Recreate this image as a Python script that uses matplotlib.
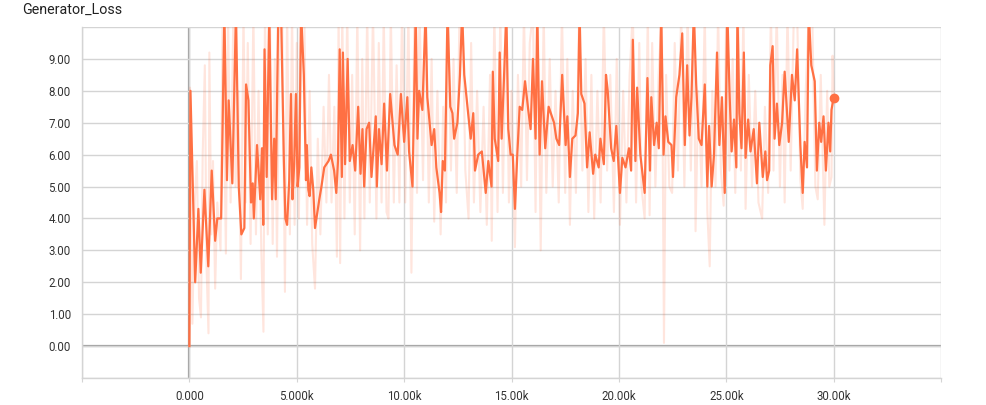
import numpy as np
import matplotlib
matplotlib.use('Agg')
import matplotlib.pyplot as plt
from matplotlib.ticker import FuncFormatter

# smoothed curve (step in thousands, loss)
smooth_steps = [
    0.0, 0.05, 0.27, 0.42, 0.53, 0.70, 0.88, 1.04, 1.20, 1.30, 1.48, 1.63, 1.75, 1.83, 2.00,
    2.17, 2.30, 2.42, 2.56, 2.64, 2.75, 2.87, 2.95, 3.00, 3.15, 3.30, 3.38, 3.44, 3.50, 3.60,
    3.72, 3.85, 3.95, 4.02, 4.14, 4.27, 4.40, 4.47, 4.55, 4.65, 4.73, 4.80, 4.88, 4.96, 5.04,
    5.12, 5.20, 5.33, 5.43, 5.47, 5.54, 5.60, 5.68, 5.77, 5.85, 6.05, 6.15, 6.28, 6.48, 6.59,
    6.74, 6.84, 6.92, 7.00, 7.10, 7.15, 7.25, 7.37, 7.47, 7.60, 7.72, 7.86, 7.97, 8.06, 8.14,
    8.25, 8.37, 8.48, 8.68, 8.73, 8.83, 8.95, 9.07, 9.20, 9.35, 9.55, 9.70, 9.85, 10.00, 10.15,
    10.23, 10.39, 10.54, 10.62, 10.70, 10.85, 11.00, 11.08, 11.28, 11.40, 11.50, 11.65, 11.72, 11.80, 11.90,
    12.02, 12.15, 12.25, 12.33, 12.48, 12.60, 12.70, 12.80, 12.95, 13.10, 13.22, 13.30, 13.45, 13.62, 13.80,
    13.92, 14.07, 14.13, 14.22, 14.38, 14.45, 14.54, 14.65, 14.76, 14.85, 14.96, 15.06, 15.16, 15.27, 15.38,
    15.50, 15.63, 15.78, 15.89, 16.00, 16.12, 16.20, 16.31, 16.42, 16.57, 16.73, 16.98, 17.09, 17.22, 17.36,
    17.52, 17.60, 17.72, 17.83, 17.98, 18.09, 18.17, 18.25, 18.40, 18.52, 18.64, 18.80, 18.90, 19.06, 19.14,
    19.30, 19.40, 19.48, 19.64, 19.76, 19.88, 20.05, 20.16, 20.31, 20.47, 20.57, 20.65, 20.77, 20.85, 21.00,
    21.20, 21.33, 21.45, 21.51, 21.64, 21.76, 21.86, 21.97, 22.08, 22.17, 22.30, 22.45, 22.52, 22.67, 22.82,
    22.95, 23.07, 23.18, 23.29, 23.38, 23.49, 23.60, 23.72, 23.85, 24.00, 24.12, 24.20, 24.32, 24.43, 24.57,
    24.68, 24.80, 24.93, 25.05, 25.16, 25.25, 25.36, 25.47, 25.52, 25.61, 25.71, 25.82, 25.90, 26.02, 26.13,
    26.28, 26.43, 26.54, 26.70, 26.82, 26.90, 27.00, 27.05, 27.16, 27.25, 27.36, 27.47, 27.60, 27.72, 27.83,
    27.91, 28.06, 28.19, 28.30, 28.45, 28.56, 28.65, 28.76, 28.84, 28.96, 29.12, 29.22, 29.33, 29.42, 29.53,
    29.64, 29.76, 29.84, 29.90, 30.00,
]
smooth_loss = [
    0.0, 8.0, 2.0, 4.3, 2.3, 4.9, 2.5, 5.5, 3.3, 4.0, 4.0, 10.5, 5.2, 7.7, 5.1,
    10.5, 5.0, 3.5, 3.7, 8.2, 7.7, 4.5, 5.1, 4.0, 6.3, 4.6, 6.2, 3.8, 9.3, 5.3,
    10.5, 4.6, 6.5, 4.6, 10.5, 10.5, 5.8, 4.0, 3.8, 5.2, 7.9, 4.6, 5.7, 7.9, 5.0,
    5.6, 10.5, 8.5, 5.2, 6.3, 4.9, 4.7, 5.6, 4.9, 3.7, 4.6, 5.0, 5.6, 5.8, 6.0,
    5.5, 4.8, 5.8, 9.3, 5.3, 9.2, 5.7, 9.0, 5.8, 6.3, 5.5, 7.5, 5.4, 6.8, 5.0,
    6.8, 7.0, 5.3, 7.2, 5.0, 6.8, 5.7, 7.6, 5.5, 7.9, 6.3, 6.0, 7.9, 6.4, 7.8,
    6.1, 5.0, 10.5, 6.5, 8.0, 7.4, 10.5, 7.8, 6.3, 6.8, 5.6, 4.8, 4.2, 5.8, 5.5,
    10.5, 7.5, 7.3, 6.5, 7.0, 8.5, 10.5, 8.5, 7.5, 6.5, 7.3, 5.5, 6.0, 6.1, 4.8,
    5.8, 5.0, 8.6, 6.5, 5.8, 9.2, 6.5, 8.4, 10.5, 6.8, 6.0, 6.0, 4.3, 6.0, 7.5,
    7.4, 8.3, 7.4, 6.8, 9.0, 6.5, 10.5, 6.0, 8.3, 6.2, 7.5, 7.0, 6.5, 6.3, 8.5,
    6.3, 7.2, 5.3, 6.5, 6.6, 7.3, 10.5, 7.9, 7.6, 5.6, 6.7, 5.4, 6.0, 5.6, 6.5,
    5.7, 8.5, 8.0, 6.2, 5.8, 6.9, 4.8, 5.9, 5.6, 6.2, 5.5, 9.6, 5.8, 8.1, 6.0,
    4.8, 8.4, 5.5, 7.8, 6.3, 7.0, 6.2, 10.5, 6.0, 7.2, 6.4, 6.3, 5.3, 7.8, 8.5,
    9.8, 6.3, 8.8, 6.6, 7.8, 10.5, 8.2, 6.5, 6.3, 8.2, 5.0, 6.9, 5.0, 6.0, 9.2,
    6.3, 7.8, 4.8, 10.5, 7.8, 6.1, 7.1, 5.6, 10.5, 7.3, 6.2, 9.2, 5.9, 7.1, 6.1,
    6.8, 5.1, 7.0, 5.3, 6.1, 5.2, 5.5, 8.8, 9.4, 6.5, 7.6, 6.3, 7.0, 8.6, 7.3,
    6.4, 8.5, 7.7, 9.3, 6.3, 4.8, 6.4, 5.6, 10.5, 8.8, 8.3, 5.5, 7.0, 6.4, 7.2,
    5.5, 7.0, 6.1, 7.4, 7.78,
]

# raw (faint) curve
raw_steps = [
    0.0, 0.03, 0.14, 0.25, 0.35, 0.45, 0.54, 0.62, 0.72, 0.80, 0.89, 0.93, 1.02, 1.10, 1.20,
    1.30, 1.45, 1.55, 1.70, 1.80, 1.92, 2.05, 2.15, 2.28, 2.40, 2.52, 2.62, 2.72, 2.85, 2.98,
    3.10, 3.22, 3.35, 3.45, 3.52, 3.65, 3.75, 3.88, 3.98, 4.08, 4.20, 4.32, 4.45, 4.55, 4.68,
    4.78, 4.90, 5.00, 5.10, 5.20, 5.35, 5.48, 5.60, 5.72, 5.85, 5.98, 6.10, 6.25, 6.38, 6.50,
    6.62, 6.75, 6.87, 6.95, 7.02, 7.12, 7.22, 7.35, 7.47, 7.58, 7.70, 7.82, 7.95, 8.05, 8.15,
    8.28, 8.40, 8.55, 8.71, 8.82, 8.95, 9.05, 9.18, 9.27, 9.38, 9.52, 9.65, 9.78, 9.90, 10.05,
    10.20, 10.34, 10.48, 10.60, 10.72, 10.88, 11.00, 11.15, 11.28, 11.40, 11.55, 11.70, 11.82, 11.95, 12.05,
    12.18, 12.30, 12.45, 12.58, 12.72, 12.85, 13.00, 13.12, 13.25, 13.40, 13.55, 13.70, 13.85, 14.00, 14.08,
    14.20, 14.35, 14.48, 14.60, 14.75, 14.88, 15.00, 15.16, 15.30, 15.45, 15.58, 15.72, 15.85, 16.00, 16.12,
    16.22, 16.36, 16.50, 16.62, 16.78, 16.92, 17.05, 17.20, 17.35, 17.50, 17.60, 17.72, 17.85, 18.00, 18.15,
    18.30, 18.45, 18.58, 18.72, 18.85, 19.00, 19.15, 19.30, 19.45, 19.60, 19.77, 19.90, 20.05, 20.20, 20.35,
    20.50, 20.65, 20.80, 20.95, 21.05, 21.20, 21.35, 21.43, 21.55, 21.70, 21.85, 22.00, 22.10, 22.20, 22.35,
    22.48, 22.60, 22.75, 22.90, 23.05, 23.20, 23.35, 23.50, 23.57, 23.70, 23.85, 24.00, 24.12, 24.23, 24.35,
    24.50, 24.62, 24.75, 24.88, 25.00, 25.15, 25.30, 25.42, 25.55, 25.68, 25.80, 25.90, 26.05, 26.20, 26.35,
    26.50, 26.67, 26.80, 26.95, 27.08, 27.20, 27.35, 27.50, 27.62, 27.72, 27.85, 28.00, 28.15, 28.30, 28.45,
    28.56, 28.70, 28.85, 29.00, 29.15, 29.26, 29.40, 29.57, 29.70, 29.80, 29.90, 29.95, 30.00,
]
raw_loss = [
    0.0, 8.1, 0.7, 4.5, 5.8, 1.5, 0.9, 6.0, 8.8, 2.5, 0.4, 9.2, 3.5, 5.8, 1.8,
    4.5, 3.0, 10.5, 2.9, 10.5, 4.5, 10.5, 5.0, 8.0, 2.1, 10.5, 4.5, 9.5, 3.2, 10.5,
    3.5, 8.0, 3.0, 0.45, 10.5, 3.5, 10.5, 3.2, 9.0, 2.8, 10.5, 10.5, 1.7, 10.5, 3.5,
    10.5, 3.8, 9.5, 4.0, 10.5, 10.5, 3.8, 8.0, 3.2, 1.8, 6.5, 3.5, 7.5, 4.5, 8.5,
    4.5, 7.5, 2.8, 10.5, 2.6, 10.5, 4.0, 10.5, 4.5, 8.5, 3.5, 10.5, 3.0, 9.0, 4.0,
    10.5, 4.5, 10.5, 4.0, 9.5, 4.5, 10.5, 4.2, 4.0, 10.5, 4.5, 8.8, 4.5, 10.5, 4.5,
    10.5, 2.3, 10.5, 4.8, 10.5, 5.2, 10.5, 4.5, 9.0, 3.9, 8.0, 3.5, 7.5, 4.5, 10.5,
    5.5, 9.0, 4.8, 10.5, 10.5, 5.5, 4.0, 9.5, 4.5, 8.0, 4.2, 7.5, 3.8, 8.5, 3.3,
    10.5, 4.2, 10.5, 4.8, 10.5, 4.5, 8.0, 3.1, 8.5, 5.0, 10.5, 5.2, 9.5, 10.5, 4.2,
    10.5, 3.0, 10.5, 4.8, 9.0, 5.0, 8.0, 4.5, 10.5, 4.8, 9.0, 3.8, 8.0, 4.8, 10.5,
    5.5, 9.0, 4.2, 8.5, 4.0, 8.0, 4.5, 10.5, 5.5, 8.5, 4.2, 9.0, 3.8, 8.0, 4.5,
    8.5, 10.5, 4.5, 9.5, 5.0, 4.0, 10.5, 4.1, 9.5, 5.0, 8.5, 10.5, 0.1, 8.5, 5.0,
    4.8, 9.5, 5.5, 10.5, 5.0, 10.5, 5.5, 10.5, 3.6, 8.0, 5.0, 10.5, 4.2, 2.5, 8.0,
    5.0, 10.5, 5.5, 4.4, 10.5, 5.5, 9.0, 4.8, 10.5, 5.5, 10.5, 4.3, 8.5, 5.0, 8.0,
    4.5, 4.0, 7.5, 4.8, 10.5, 5.5, 10.5, 5.0, 8.5, 4.5, 10.5, 5.5, 10.5, 10.5, 5.2,
    4.3, 8.0, 10.5, 10.5, 5.0, 4.6, 8.5, 3.8, 8.0, 5.0, 5.3, 9.1, 7.9,
]

title = "Generator_Loss"
x_ticks = [-5000, 0, 5000, 10000, 15000, 20000, 25000, 30000, 35000]
y_ticks = [-1, 0, 1, 2, 3, 4, 5, 6, 7, 8, 9, 10]

line_color = '#ff7043'
grid_color = '#d4d4d4'

plt.rcParams['font.family'] = ['Roboto', 'DejaVu Sans']

fig = plt.figure(figsize=(9.86, 4.05), dpi=100)
ax = fig.add_axes([82 / 986, 1 - 378 / 405, (941 - 82) / 986, (378 - 27) / 405])

sx = np.array(smooth_steps) * 1000
rx = np.array(raw_steps) * 1000

ax.plot(rx, raw_loss, color=line_color, alpha=0.18, lw=1.5, zorder=3)
ax.plot(sx, smooth_loss, color=line_color, lw=1.6, zorder=4)
ax.plot(sx[-1], smooth_loss[-1], 'o', color=line_color, ms=6, zorder=5)

ax.set_xlim(-5000, 35000)
ax.set_ylim(-1, 10)
ax.set_xticks(x_ticks)
ax.set_yticks(y_ticks)


def fmt_x(v, pos):
    if v < 0 or v > 30000:
        return ''
    if v == 0:
        return '0.000'
    if v < 10000:
        return '%.3fk' % (v / 1000)
    return '%.2fk' % (v / 1000)


def fmt_y(v, pos):
    if v < 0 or v > 9.5:
        return ''
    return '%.2f' % v


ax.xaxis.set_major_formatter(FuncFormatter(fmt_x))
ax.yaxis.set_major_formatter(FuncFormatter(fmt_y))

ax.grid(True, color=grid_color, lw=1.0, zorder=0)
ax.axhline(0, color='#9e9e9e', lw=1.6, zorder=1)
ax.axvline(0, color='#9e9e9e', lw=1.6, zorder=1)

for side in ['top', 'right']:
    ax.spines[side].set_visible(False)
for side in ['left', 'bottom']:
    ax.spines[side].set_color(grid_color)
    ax.spines[side].set_linewidth(1.0)

ax.tick_params(axis='x', length=3, color=grid_color, labelsize=8.3, labelcolor='#333333', pad=6)
ax.tick_params(axis='y', length=0, labelsize=8.3, labelcolor='#333333', pad=8)

fig.text(22 / 986, 1 - 10 / 405, title, fontsize=10.3, color='#212121', va='center', ha='left')

fig.savefig('out.png', dpi=100)
